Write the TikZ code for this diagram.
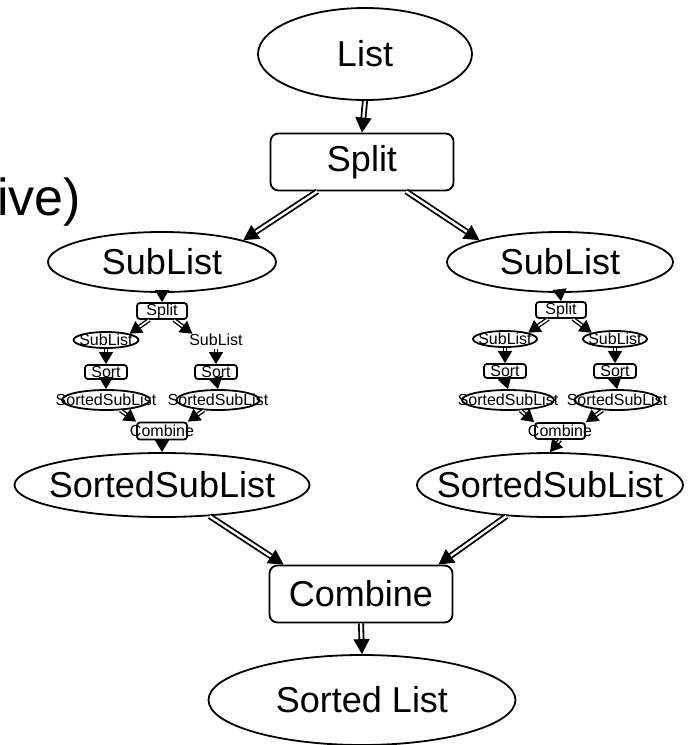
\documentclass[tikz,border=0pt]{standalone}
\usepackage{fontspec}
\setmainfont{Liberation Sans}
\usepackage{tikz}
\usetikzlibrary{arrows.meta, shapes.geometric, positioning}

\begin{document}
\begin{tikzpicture}[x=1pt, y=-1pt,
  big/.style={font=\fontsize{36}{40}\selectfont, inner sep=0pt},
  el/.style={draw, ellipse, line width=1.8pt, inner sep=0pt},
  bx/.style={draw, rounded corners=8pt, line width=1.8pt, minimum width=183pt, minimum height=57pt, inner sep=0pt, big},
  sm/.style={font=\fontsize{16}{16}\selectfont, inner sep=0pt},
  sel/.style={draw, ellipse, line width=1.8pt, inner sep=0pt, minimum height=16pt},
  sbx/.style={draw, rounded corners=3pt, line width=1.8pt, inner sep=0pt},
  fl/.style={double, double distance=2.4pt, line width=1.8pt, -{Triangle[length=15pt, width=16pt]}},
  sfl/.style={double, double distance=1.6pt, line width=1.4pt, -{Triangle[length=12pt, width=14pt]}}]
  \useasboundingbox (0,0) rectangle (696,745);
  \node[anchor=base west, inner sep=0pt, font=\fontsize{52}{56}\selectfont] (rec) at (-3,215) {ive)};
  % top level
  \node[el, minimum width=214pt, minimum height=92pt, label={[big]center:List}] (lst) at (365,54) {};
  \node[bx] (split) at (362,162) {Split};
  \node[el, minimum width=228pt, minimum height=60pt, label={[big]center:SubList}] (ls) at (162,262) {};
  \node[el, minimum width=226pt, minimum height=60pt, label={[big]center:SubList}] (rs) at (560,262) {};
  % left inner split/sort/combine
  \node[sbx, minimum width=50pt, minimum height=16pt, label={[sm]center:Split}] (lsp) at (162,311) {};
  \node[sel, minimum width=65pt, label={[sm]center:SubList}] (lsa) at (106,340) {};
  \node[sel, draw=none, minimum width=65pt, label={[sm]center:SubList}] (lsb) at (216,340) {};
  \node[sbx, minimum width=42pt, minimum height=14pt, label={[sm]center:Sort}] (lsc) at (106,372) {};
  \node[sbx, minimum width=42pt, minimum height=14pt, label={[sm]center:Sort}] (lsd) at (216,372) {};
  \node[sel, minimum width=88pt, minimum height=20pt, label={[sm]center:SortedSubList}] (lse) at (106,400) {};
  \node[sel, minimum width=83pt, minimum height=20pt, label={[sm]center:SortedSubList}] (lsf) at (218,400) {};
  \node[sbx, minimum width=50pt, minimum height=17pt, label={[sm]center:Combine}] (lsg) at (162,431) {};
  % right inner split/sort/combine
  \node[sbx, minimum width=50pt, minimum height=16pt, label={[sm]center:Split}] (rsp) at (561,310) {};
  \node[sel, minimum width=64pt, label={[sm]center:SubList}] (rsa) at (505,339) {};
  \node[sel, minimum width=64pt, label={[sm]center:SubList}] (rsb) at (615,339) {};
  \node[sbx, minimum width=42pt, minimum height=14pt, label={[sm]center:Sort}] (rsc) at (505,371) {};
  \node[sbx, minimum width=42pt, minimum height=14pt, label={[sm]center:Sort}] (rsd) at (615,371) {};
  \node[sel, minimum width=92pt, minimum height=20pt, label={[sm]center:SortedSubList}] (rse) at (508,400) {};
  \node[sel, minimum width=85pt, minimum height=20pt, label={[sm]center:SortedSubList}] (rsf) at (617,400) {};
  \node[sbx, minimum width=50pt, minimum height=16pt, label={[sm]center:Combine}] (rsg) at (560,431) {};
  % bottom level
  \node[el, minimum width=295pt, minimum height=64pt, label={[big]center:SortedSubList}] (ls2) at (162,485) {};
  \node[el, minimum width=266pt, minimum height=64pt, label={[big]center:SortedSubList}] (rs2) at (550,485) {};
  \node[bx] (comb) at (361,594) {Combine};
  \node[el, minimum width=307pt, minimum height=90pt, label={[big]center:Sorted List}] (slst) at (362,700) {};
  % edges
  \draw[fl] (lst.south) -- (split.north);
  \draw[fl] (split) -- (ls.north east);
  \draw[fl] (split) -- (rs.north west);
  \draw[sfl] (ls.south) -- (lsp.north);
  \draw[sfl] (lsp) -- (lsa.north east);
  \draw[sfl] (lsp) -- (lsb.north west);
  \draw[sfl] (lsa.south) -- (lsc.north);
  \draw[sfl] (lsb.south) -- (lsd.north);
  \draw[sfl] (lsc.south) -- (lse.north);
  \draw[sfl] (lsd.south) -- (lsf.north);
  \draw[sfl] (lse) -- (lsg.north west);
  \draw[sfl] (lsf) -- (lsg.north east);
  \draw[sfl] (lsg.south) -- (ls2.north);
  \draw[sfl] (rs.south) -- (rsp.north);
  \draw[sfl] (rsp) -- (rsa.north east);
  \draw[sfl] (rsp) -- (rsb.north west);
  \draw[sfl] (rsa.south) -- (rsc.north);
  \draw[sfl] (rsb.south) -- (rsd.north);
  \draw[sfl] (rsc.south) -- (rse.north);
  \draw[sfl] (rsd.south) -- (rsf.north);
  \draw[sfl] (rse) -- (rsg.north west);
  \draw[sfl] (rsf) -- (rsg.north east);
  \draw[sfl] (rsg.south) -- (rs2.north);
  \draw[fl] (ls2) -- ([xshift=15pt]comb.north west);
  \draw[fl] (rs2) -- ([xshift=-15pt]comb.north east);
  \draw[fl] (comb.south) -- (slst.north);
\end{tikzpicture}
\end{document}
